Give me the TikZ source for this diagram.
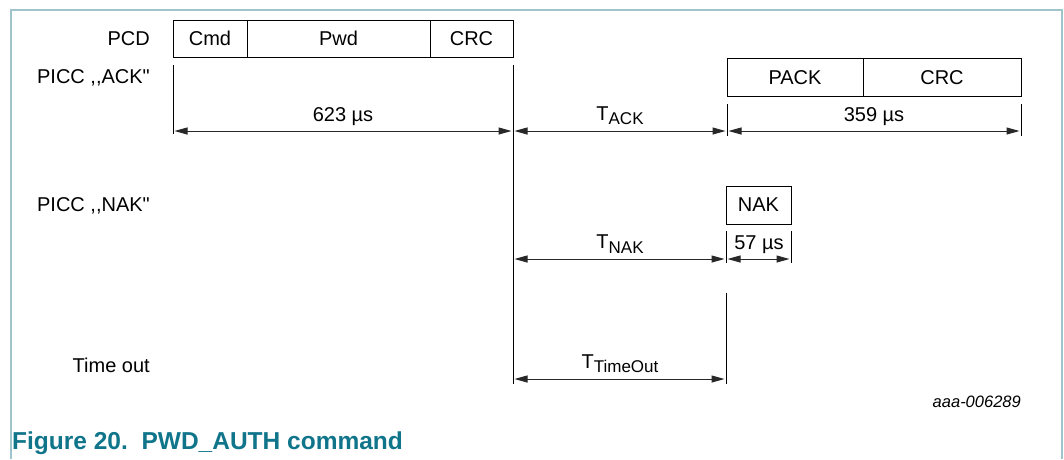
\documentclass[tikz,border=0pt]{standalone}
\usepackage{fontspec}
\setmainfont{Liberation Sans}[Ligatures=TeXOff]
\usetikzlibrary{arrows.meta}
\definecolor{framec}{RGB}{160,196,204}
\definecolor{capc}{RGB}{16,117,138}
\definecolor{arrc}{RGB}{40,40,40}
\begin{document}
\begin{tikzpicture}[x=1pt,y=-1pt,
  lbl/.style={font=\fontsize{20}{20}\selectfont, inner sep=0pt},
  rowlbl/.style={lbl, anchor=east},
  field/.style={draw, line width=0.9pt, minimum height=37pt, inner sep=0pt, font=\fontsize{20}{20}\selectfont},
  tick/.style={line width=0.9pt},
  dim/.style={{Triangle[length=13pt,width=7pt]}-{Triangle[length=13pt,width=7pt]}, line width=1pt, draw=arrc, shorten <=1.5pt, shorten >=1.5pt}]
\useasboundingbox (0,0) rectangle (1064,459);
\draw[framec, line width=1.5pt] (11,459) -- (11,10) -- (1062,10) -- (1062,459);

% row labels
\node[rowlbl] (lpcd) at (150,39) {PCD};
\node[rowlbl] (lack) at (150,78) {PICC ,,ACK"};
\node[rowlbl] (lnak) at (150,206) {PICC ,,NAK"};
\node[rowlbl] (lto) at (150,365) {Time out};

% PCD frame
\node[field, minimum width=74pt] (cmd) at (210,38.5) {Cmd};
\node[field, minimum width=183pt] (pwd) at (338.5,38.5) {Pwd};
\node[field, minimum width=83pt] (crc1) at (471.5,38.5) {CRC};

% PICC ACK frame
\node[field, minimum width=136pt, minimum height=38pt] (pack) at (795,77.5) {PACK};
\node[field, minimum width=158pt, minimum height=38pt] (crc2) at (942,77.5) {CRC};

% NAK frame
\node[field, minimum width=65pt, minimum height=38pt] (nak) at (758.5,205) {NAK};

% coordinates for ticks
\coordinate (a0) at (173,65);  \coordinate (a1) at (173,134);
\coordinate (b0) at (513,65);  \coordinate (b1) at (513,384);
\coordinate (c0) at (727,104); \coordinate (c1) at (727,136);
\coordinate (d0) at (1021,104);\coordinate (d1) at (1021,136);
\coordinate (e0) at (726,231); \coordinate (e1) at (726,263);
\coordinate (f0) at (791,231); \coordinate (f1) at (791,263);
\coordinate (g0) at (726,293); \coordinate (g1) at (726,384);

\draw[tick] (a0) -- (a1);
\draw[tick] (b0) -- (b1);
\draw[tick] (c0) -- (c1);
\draw[tick] (d0) -- (d1);
\draw[tick] (e0) -- (e1);
\draw[tick] (f0) -- (f1);
\draw[tick] (g0) -- (g1);

% dimension arrows
\coordinate (p1) at (173,131); \coordinate (p2) at (513,131);
\coordinate (p3) at (727,131); \coordinate (p4) at (1021,131);
\coordinate (q1) at (513,259); \coordinate (q2) at (726,259); \coordinate (q3) at (791,259);
\coordinate (r1) at (513,379); \coordinate (r2) at (726,379);
\draw[dim] (p1) -- (p2);
\draw[dim] (p2) -- (p3);
\draw[dim] (p3) -- (p4);
\draw[dim] (q1) -- (q2);
\draw[dim] (q2) -- (q3);
\draw[dim] (r1) -- (r2);

% dimension labels
\node[lbl] (t623) at (343,117) {623 µs};
\node[lbl] (tack) at (620,116) {T\raisebox{-0.4ex}{\fontsize{17}{17}\selectfont ACK}};
\node[lbl] (t359) at (874,117) {359 µs};
\node[lbl] (tnak) at (620,244) {T\raisebox{-0.4ex}{\fontsize{17}{17}\selectfont NAK}};
\node[lbl] (t57) at (759,245) {57 µs};
\node[lbl] (tto) at (620,364) {T\raisebox{-0.4ex}{\fontsize{17}{17}\selectfont TimeOut}};

% id and caption
\node[anchor=east, inner sep=0pt, font=\fontsize{16.5}{16.5}\selectfont\itshape] (id) at (1021,402) {aaa-006289};
\node[anchor=base west, inner sep=0pt, text=capc, font=\fontsize{24.5}{24.5}\selectfont\bfseries] (cap) at (12,449) {Figure 20.\ \ PWD\_AUTH command};
\end{tikzpicture}
\end{document}
